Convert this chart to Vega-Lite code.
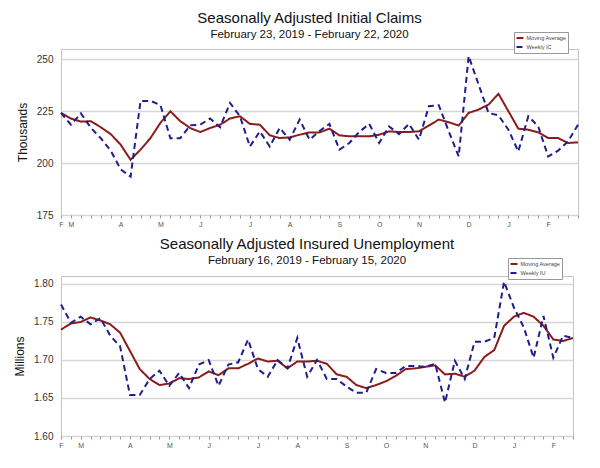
{
  "$schema": "https://vega.github.io/schema/vega-lite/v6.json",
  "padding": {"left": 13, "top": 10, "right": 5, "bottom": 5},
  "spacing": 8,
  "config": {
    "font": "Liberation Sans",
    "view": {"stroke": "#c4c4c4", "strokeWidth": 1},
    "axisY": {"domain": false, "ticks": false, "gridColor": "#d6d6d6", "gridWidth": 1.5, "labelFontSize": 10, "labelColor": "#333", "labelPadding": 8, "titleFontSize": 12, "titleFontWeight": "normal", "titleColor": "#111", "titlePadding": 7},
    "axisX": {"domain": false, "grid": false, "tickSize": 3, "tickColor": "#999", "labelFontSize": 7, "labelColor": "#555", "labelPadding": 2, "labelAngle": 0, "labelOverlap": false, "title": null},
    "legend": {"orient": "none", "fillColor": "white", "strokeColor": "#999", "padding": 1.5, "labelFontSize": 5.5, "labelColor": "#444", "symbolType": "stroke", "symbolStrokeWidth": 2, "symbolSize": 49, "rowPadding": 0, "labelOffset": 2, "labelLimit": 80},
    "title": {"fontSize": 15, "fontWeight": "normal", "subtitleFontSize": 11.5, "subtitlePadding": 0, "anchor": "middle", "color": "#111", "subtitleColor": "#111", "subtitleFont": "Liberation Sans", "offset": -9, "dx": -10}
  },
  "resolve": {"scale": {"color": "independent", "strokeDash": "independent", "x": "independent", "y": "independent"}, "legend": {"color": "independent", "strokeDash": "independent"}},
  "vconcat": [
    {
      "width": 517,
      "height": 166,
      "title": {"text": "Seasonally Adjusted Initial Claims", "subtitle": "February 23, 2019 - February 22, 2020"},
      "data": {"values": [
        {"week": "2019-02-23", "Moving Average": 224.2, "Weekly IC": 224.2},
        {"week": "2019-03-02", "Moving Average": 221.5, "Weekly IC": 218.5},
        {"week": "2019-03-09", "Moving Average": 220.0, "Weekly IC": 224.0},
        {"week": "2019-03-16", "Moving Average": 220.2, "Weekly IC": 217.0},
        {"week": "2019-03-23", "Moving Average": 217.3, "Weekly IC": 212.0},
        {"week": "2019-03-30", "Moving Average": 214.0, "Weekly IC": 206.0},
        {"week": "2019-04-06", "Moving Average": 208.9, "Weekly IC": 197.0},
        {"week": "2019-04-13", "Moving Average": 201.6, "Weekly IC": 193.5},
        {"week": "2019-04-20", "Moving Average": 206.5, "Weekly IC": 230.0},
        {"week": "2019-04-27", "Moving Average": 212.1, "Weekly IC": 230.0},
        {"week": "2019-05-04", "Moving Average": 219.4, "Weekly IC": 228.0},
        {"week": "2019-05-11", "Moving Average": 225.0, "Weekly IC": 212.0},
        {"week": "2019-05-18", "Moving Average": 220.2, "Weekly IC": 212.0},
        {"week": "2019-05-25", "Moving Average": 216.9, "Weekly IC": 218.2},
        {"week": "2019-06-01", "Moving Average": 215.0, "Weekly IC": 218.5},
        {"week": "2019-06-08", "Moving Average": 216.9, "Weekly IC": 221.5},
        {"week": "2019-06-15", "Moving Average": 218.5, "Weekly IC": 217.3},
        {"week": "2019-06-22", "Moving Average": 221.5, "Weekly IC": 229.0},
        {"week": "2019-06-29", "Moving Average": 222.6, "Weekly IC": 222.6},
        {"week": "2019-07-06", "Moving Average": 218.9, "Weekly IC": 208.0},
        {"week": "2019-07-13", "Moving Average": 218.5, "Weekly IC": 215.3},
        {"week": "2019-07-20", "Moving Average": 213.4, "Weekly IC": 208.0},
        {"week": "2019-07-27", "Moving Average": 212.1, "Weekly IC": 217.0},
        {"week": "2019-08-03", "Moving Average": 212.4, "Weekly IC": 211.3},
        {"week": "2019-08-10", "Moving Average": 213.7, "Weekly IC": 221.0},
        {"week": "2019-08-17", "Moving Average": 214.8, "Weekly IC": 211.3},
        {"week": "2019-08-24", "Moving Average": 214.8, "Weekly IC": 215.5},
        {"week": "2019-08-31", "Moving Average": 216.6, "Weekly IC": 218.9},
        {"week": "2019-09-07", "Moving Average": 213.4, "Weekly IC": 206.5},
        {"week": "2019-09-14", "Moving Average": 212.9, "Weekly IC": 209.7},
        {"week": "2019-09-21", "Moving Average": 212.9, "Weekly IC": 215.0},
        {"week": "2019-09-28", "Moving Average": 212.9, "Weekly IC": 218.9},
        {"week": "2019-10-05", "Moving Average": 213.7, "Weekly IC": 209.7},
        {"week": "2019-10-12", "Moving Average": 215.3, "Weekly IC": 217.7},
        {"week": "2019-10-19", "Moving Average": 215.0, "Weekly IC": 214.0},
        {"week": "2019-10-26", "Moving Average": 215.0, "Weekly IC": 218.9},
        {"week": "2019-11-02", "Moving Average": 215.3, "Weekly IC": 211.3},
        {"week": "2019-11-09", "Moving Average": 218.1, "Weekly IC": 227.4},
        {"week": "2019-11-16", "Moving Average": 221.0, "Weekly IC": 227.9},
        {"week": "2019-11-23", "Moving Average": 219.7, "Weekly IC": 215.3},
        {"week": "2019-11-30", "Moving Average": 218.1, "Weekly IC": 203.2},
        {"week": "2019-12-07", "Moving Average": 224.2, "Weekly IC": 251.6},
        {"week": "2019-12-14", "Moving Average": 225.8, "Weekly IC": 237.9},
        {"week": "2019-12-21", "Moving Average": 228.2, "Weekly IC": 224.2},
        {"week": "2019-12-28", "Moving Average": 233.4, "Weekly IC": 223.0},
        {"week": "2020-01-04", "Moving Average": 225.0, "Weekly IC": 216.1},
        {"week": "2020-01-11", "Moving Average": 216.6, "Weekly IC": 205.6},
        {"week": "2020-01-18", "Moving Average": 216.1, "Weekly IC": 222.6},
        {"week": "2020-01-25", "Moving Average": 214.8, "Weekly IC": 217.7},
        {"week": "2020-02-01", "Moving Average": 212.1, "Weekly IC": 203.2},
        {"week": "2020-02-08", "Moving Average": 212.1, "Weekly IC": 206.0},
        {"week": "2020-02-15", "Moving Average": 209.7, "Weekly IC": 210.5},
        {"week": "2020-02-22", "Moving Average": 210.0, "Weekly IC": 218.5}
      ]},
      "transform": [{"fold": ["Moving Average", "Weekly IC"], "as": ["series", "value"]}],
      "mark": {"type": "line", "strokeWidth": 2},
      "encoding": {
        "x": {"field": "week", "type": "ordinal", "scale": {"type": "point", "padding": 0},
              "axis": {"labelExpr": "toNumber(substring(datum.value, 8, 10)) <= 7 || datum.value == '2019-02-23' ? substring(utcFormat(toDate(datum.value), '%b'), 0, 1) : ''"}},
        "y": {"field": "value", "type": "quantitative", "scale": {"domain": [175, 255], "nice": false, "zero": false},
              "axis": {"title": "Thousands", "values": [175, 200, 225, 250]}},
        "color": {"field": "series", "type": "nominal", "scale": {"domain": ["Moving Average", "Weekly IC"], "range": ["#8b1c1c", "#1f1f8a"]},
                  "legend": {"title": null, "legendX": 453, "legendY": -17}},
        "strokeDash": {"field": "series", "type": "nominal", "scale": {"domain": ["Moving Average", "Weekly IC"], "range": [[1, 0], [6, 4]]},
                  "legend": {"title": null, "legendX": 453, "legendY": -17}}
      }
    },
    {
      "width": 512,
      "height": 160,
      "title": {"text": "Seasonally Adjusted Insured Unemployment", "subtitle": "February 16, 2019 - February 15, 2020"},
      "data": {"values": [
        {"week": "2019-02-16", "Moving Average": 1.740, "Weekly IU": 1.773},
        {"week": "2019-02-23", "Moving Average": 1.748, "Weekly IU": 1.749},
        {"week": "2019-03-02", "Moving Average": 1.750, "Weekly IU": 1.757},
        {"week": "2019-03-09", "Moving Average": 1.756, "Weekly IU": 1.747},
        {"week": "2019-03-16", "Moving Average": 1.752, "Weekly IU": 1.755},
        {"week": "2019-03-23", "Moving Average": 1.747, "Weekly IU": 1.732},
        {"week": "2019-03-30", "Moving Average": 1.736, "Weekly IU": 1.718},
        {"week": "2019-04-06", "Moving Average": 1.712, "Weekly IU": 1.654},
        {"week": "2019-04-13", "Moving Average": 1.688, "Weekly IU": 1.654},
        {"week": "2019-04-20", "Moving Average": 1.675, "Weekly IU": 1.675},
        {"week": "2019-04-27", "Moving Average": 1.667, "Weekly IU": 1.686},
        {"week": "2019-05-04", "Moving Average": 1.669, "Weekly IU": 1.666},
        {"week": "2019-05-11", "Moving Average": 1.676, "Weekly IU": 1.683},
        {"week": "2019-05-18", "Moving Average": 1.675, "Weekly IU": 1.663},
        {"week": "2019-05-25", "Moving Average": 1.677, "Weekly IU": 1.694},
        {"week": "2019-06-01", "Moving Average": 1.685, "Weekly IU": 1.700},
        {"week": "2019-06-08", "Moving Average": 1.680, "Weekly IU": 1.666},
        {"week": "2019-06-15", "Moving Average": 1.689, "Weekly IU": 1.694},
        {"week": "2019-06-22", "Moving Average": 1.689, "Weekly IU": 1.697},
        {"week": "2019-06-29", "Moving Average": 1.695, "Weekly IU": 1.727},
        {"week": "2019-07-06", "Moving Average": 1.702, "Weekly IU": 1.688},
        {"week": "2019-07-13", "Moving Average": 1.698, "Weekly IU": 1.678},
        {"week": "2019-07-20", "Moving Average": 1.699, "Weekly IU": 1.700},
        {"week": "2019-07-27", "Moving Average": 1.689, "Weekly IU": 1.689},
        {"week": "2019-08-03", "Moving Average": 1.698, "Weekly IU": 1.729},
        {"week": "2019-08-10", "Moving Average": 1.698, "Weekly IU": 1.678},
        {"week": "2019-08-17", "Moving Average": 1.699, "Weekly IU": 1.700},
        {"week": "2019-08-24", "Moving Average": 1.695, "Weekly IU": 1.675},
        {"week": "2019-08-31", "Moving Average": 1.681, "Weekly IU": 1.675},
        {"week": "2019-09-07", "Moving Average": 1.678, "Weekly IU": 1.665},
        {"week": "2019-09-14", "Moving Average": 1.667, "Weekly IU": 1.657},
        {"week": "2019-09-21", "Moving Average": 1.663, "Weekly IU": 1.657},
        {"week": "2019-09-28", "Moving Average": 1.667, "Weekly IU": 1.688},
        {"week": "2019-10-05", "Moving Average": 1.672, "Weekly IU": 1.683},
        {"week": "2019-10-12", "Moving Average": 1.679, "Weekly IU": 1.683},
        {"week": "2019-10-19", "Moving Average": 1.688, "Weekly IU": 1.692},
        {"week": "2019-10-26", "Moving Average": 1.689, "Weekly IU": 1.692},
        {"week": "2019-11-02", "Moving Average": 1.691, "Weekly IU": 1.691},
        {"week": "2019-11-09", "Moving Average": 1.693, "Weekly IU": 1.695},
        {"week": "2019-11-16", "Moving Average": 1.681, "Weekly IU": 1.644},
        {"week": "2019-11-23", "Moving Average": 1.682, "Weekly IU": 1.699},
        {"week": "2019-11-30", "Moving Average": 1.678, "Weekly IU": 1.675},
        {"week": "2019-12-07", "Moving Average": 1.686, "Weekly IU": 1.724},
        {"week": "2019-12-14", "Moving Average": 1.704, "Weekly IU": 1.724},
        {"week": "2019-12-21", "Moving Average": 1.713, "Weekly IU": 1.729},
        {"week": "2019-12-28", "Moving Average": 1.745, "Weekly IU": 1.803},
        {"week": "2020-01-04", "Moving Average": 1.757, "Weekly IU": 1.769},
        {"week": "2020-01-11", "Moving Average": 1.762, "Weekly IU": 1.743},
        {"week": "2020-01-18", "Moving Average": 1.757, "Weekly IU": 1.703},
        {"week": "2020-01-25", "Moving Average": 1.745, "Weekly IU": 1.758},
        {"week": "2020-02-01", "Moving Average": 1.727, "Weekly IU": 1.703},
        {"week": "2020-02-08", "Moving Average": 1.725, "Weekly IU": 1.732},
        {"week": "2020-02-15", "Moving Average": 1.729, "Weekly IU": 1.729}
      ]},
      "transform": [{"fold": ["Moving Average", "Weekly IU"], "as": ["series", "value"]}],
      "mark": {"type": "line", "strokeWidth": 2},
      "encoding": {
        "x": {"field": "week", "type": "ordinal", "scale": {"type": "point", "padding": 0},
              "axis": {"labelExpr": "toNumber(substring(datum.value, 8, 10)) <= 7 || datum.value == '2019-02-16' ? substring(utcFormat(toDate(datum.value), '%b'), 0, 1) : ''"}},
        "y": {"field": "value", "type": "quantitative", "scale": {"domain": [1.6, 1.8105], "nice": false, "zero": false},
              "axis": {"title": "Millions", "values": [1.6, 1.65, 1.7, 1.75, 1.8], "format": ".2f"}},
        "color": {"field": "series", "type": "nominal", "scale": {"domain": ["Moving Average", "Weekly IU"], "range": ["#8b1c1c", "#1f1f8a"]},
                  "legend": {"title": null, "legendX": 447, "legendY": -18}},
        "strokeDash": {"field": "series", "type": "nominal", "scale": {"domain": ["Moving Average", "Weekly IU"], "range": [[1, 0], [6, 4]]},
                  "legend": {"title": null, "legendX": 447, "legendY": -18}}
      }
    }
  ]
}
